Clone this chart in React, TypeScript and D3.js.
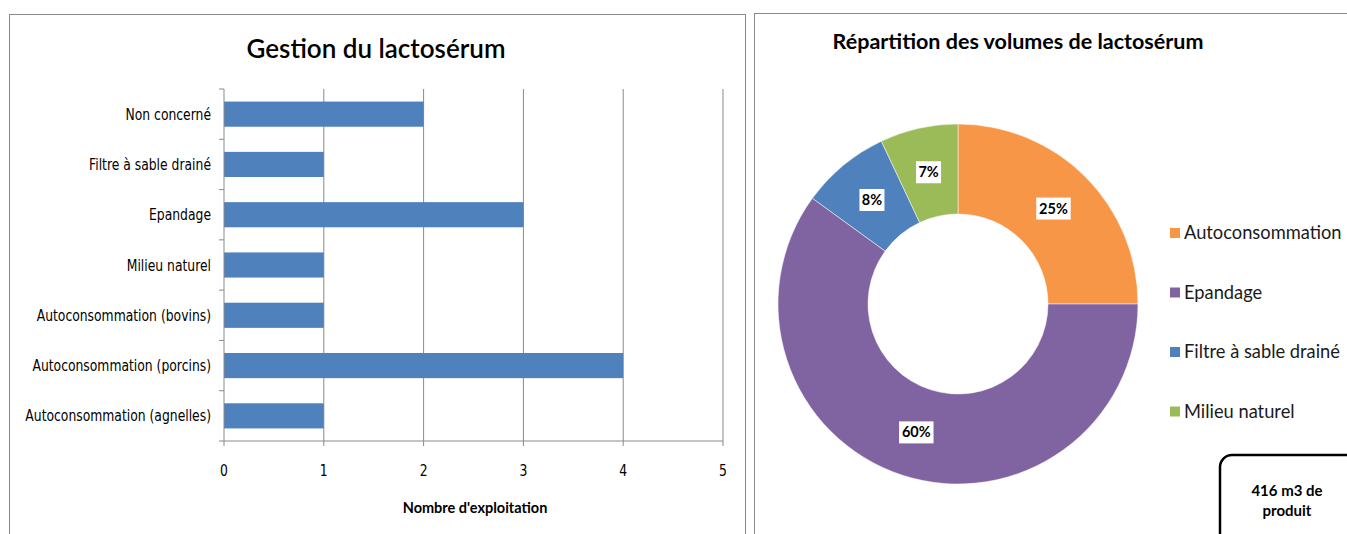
import React from "react";
import * as d3 from "d3";

// Bar chart: number of farms per whey-management practice
const barCategories = [
  "Non concerné",
  "Filtre à sable drainé",
  "Epandage",
  "Milieu naturel",
  "Autoconsommation (bovins)",
  "Autoconsommation (porcins)",
  "Autoconsommation (agnelles)",
];
const barValues = [2, 1, 3, 1, 1, 4, 1];
const xTicks = [0, 1, 2, 3, 4, 5];

// Donut chart: share of whey volume by destination
const pieLabels = ["Autoconsommation", "Epandage", "Filtre à sable drainé", "Milieu naturel"];
const pieValues = [25, 60, 8, 7];
const pieColors = ["#F79646", "#8064A2", "#4F81BD", "#9BBB59"];
const totalNoteLines = ["416 m3 de", "produit"];

const NARROW = "'Liberation Sans Narrow', 'DejaVu Sans Condensed', sans-serif";
const SANS = "Lato, 'Open Sans', sans-serif";

function BarPanel() {
  const x = d3.scaleLinear().domain([0, 5]).range([224, 723]);
  const y = d3
    .scaleBand<string>()
    .domain(barCategories)
    .range([89, 441])
    .paddingInner(0.5)
    .paddingOuter(0.25);
  const step = y.step();
  const top = 89;
  const bottom = 441;
  return (
    <g>
      <rect x={9.5} y={14.5} width={736} height={540} fill="#fff" stroke="#8a8a8a" />
      <text
        x={376}
        y={58}
        textAnchor="middle"
        fontFamily={SANS}
        fontWeight={600}
        fontSize={26}
        fill="#000"
      >
        Gestion du lactosérum
      </text>
      {/* vertical gridlines */}
      {xTicks
        .filter((t) => t > 0)
        .map((t) => (
          <line key={t} x1={x(t)} x2={x(t)} y1={top} y2={bottom} stroke="#8a8a8a" />
        ))}
      {/* bars */}
      {barCategories.map((c, i) => (
        <rect
          key={c}
          x={x(0)}
          y={y(c)!}
          width={x(barValues[i]) - x(0)}
          height={y.bandwidth()}
          fill="#4F81BD"
        />
      ))}
      {/* category axis */}
      <line x1={x(0)} x2={x(0)} y1={top} y2={bottom} stroke="#8a8a8a" />
      {d3.range(barCategories.length + 1).map((i) => (
        <line
          key={i}
          x1={x(0) - 5}
          x2={x(0)}
          y1={top + i * step}
          y2={top + i * step}
          stroke="#8a8a8a"
        />
      ))}
      {barCategories.map((c) => (
        <text
          key={c}
          transform={`translate(211,${y(c)! + y.bandwidth() / 2}) scale(0.86,1)`}
          dy="0.35em"
          textAnchor="end"
          fontFamily={NARROW}
          fontSize={16}
          fill="#000"
        >
          {c}
        </text>
      ))}
      {/* value axis */}
      <line x1={x(0)} x2={x(5)} y1={bottom} y2={bottom} stroke="#8a8a8a" />
      {xTicks.map((t) => (
        <g key={t}>
          <line x1={x(t)} x2={x(t)} y1={bottom} y2={bottom + 5} stroke="#8a8a8a" />
          <text
            transform={`translate(${x(t)},470) scale(0.86,1)`}
            dy="0.35em"
            textAnchor="middle"
            fontFamily={NARROW}
            fontSize={16}
            fill="#000"
          >
            {t}
          </text>
        </g>
      ))}
      <text
        x={475}
        y={508}
        dy="0.35em"
        textAnchor="middle"
        fontFamily={SANS}
        fontWeight={700}
        fontSize={14.5}
        fill="#000"
      >
        Nombre d'exploitation
      </text>
    </g>
  );
}

function DonutPanel() {
  const cx = 958;
  const cy = 304;
  const outer = 180;
  const inner = 90;
  const pie = d3.pie<number>().sort(null).value((d) => d);
  const arcs = pie(pieValues);
  const arc = d3.arc<d3.PieArcDatum<number>>().innerRadius(inner).outerRadius(outer);
  const total = d3.sum(pieValues);
  return (
    <g>
      <rect x={754.5} y={13.5} width={620} height={540} fill="#fff" stroke="#8a8a8a" />
      <text
        x={1018}
        y={49}
        textAnchor="middle"
        fontFamily={SANS}
        fontWeight={700}
        fontSize={21.5}
        fill="#000"
      >
        Répartition des volumes de lactosérum
      </text>
      <g transform={`translate(${cx},${cy})`}>
        {arcs.map((a, i) => (
          <path key={pieLabels[i]} d={arc(a)!} fill={pieColors[i]} stroke="#fff" strokeWidth={0.5} />
        ))}
        {arcs.map((a, i) => {
          const [lx, ly] = arc.centroid(a);
          const label = `${Math.round((a.data / total) * 100)}%`;
          const w = label.length * 9.5 + 6;
          return (
            <g key={`l-${i}`} transform={`translate(${lx},${ly})`}>
              <rect x={-w / 2} y={-11} width={w} height={22} fill="#fff" />
              <text
                textAnchor="middle"
                dy="0.35em"
                fontFamily={SANS}
                fontWeight={700}
                fontSize={14.5}
                fill="#000"
              >
                {label}
              </text>
            </g>
          );
        })}
      </g>
      {/* legend */}
      {pieLabels.map((l, i) => (
        <g key={l} transform={`translate(1170,${233 + i * 59.5})`}>
          <rect x={0} y={-5} width={10} height={10} fill={pieColors[i]} />
          <text x={14} dy="0.35em" fontFamily={SANS} fontSize={18.3} fill="#1a1a1a">
            {l}
          </text>
        </g>
      ))}
      {/* total volume note */}
      <rect
        x={1220}
        y={455}
        width={140}
        height={100}
        rx={12}
        ry={12}
        fill="#fff"
        stroke="#000"
        strokeWidth={2.5}
      />
      {totalNoteLines.map((t, i) => (
        <text
          key={t}
          x={1287}
          y={491 + i * 20}
          dy="0.35em"
          textAnchor="middle"
          fontFamily={SANS}
          fontWeight={700}
          fontSize={15}
          fill="#000"
        >
          {t}
        </text>
      ))}
    </g>
  );
}

export default function App() {
  return (
    <svg
      width={1347}
      height={534}
      style={{ position: "absolute", left: 0, top: 0, background: "#fff" }}
    >
      <rect width={1347} height={534} fill="#fff" />
      <BarPanel />
      <DonutPanel />
    </svg>
  );
}
